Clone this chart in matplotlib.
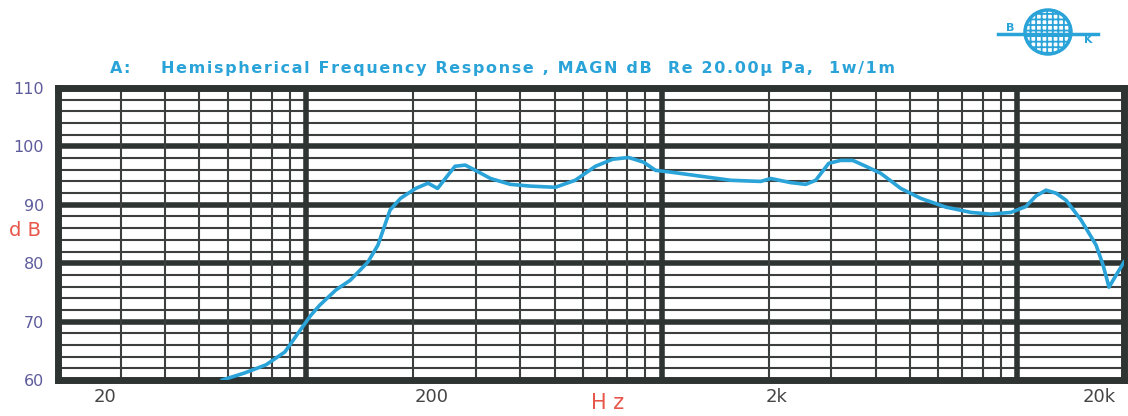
import numpy as np
import matplotlib
matplotlib.use("Agg")
import matplotlib.pyplot as plt
from matplotlib.patches import Ellipse
from matplotlib.transforms import ScaledTranslation

# values
freq_hz = [58, 67, 77, 87, 96, 103, 109, 121, 133, 149, 159, 172, 184, 203, 220,
           234, 249, 262, 280, 299, 330, 375, 427, 502, 571, 651, 728, 807, 889,
           961, 1059, 1286, 1563, 1898, 2028, 2307, 2542, 2713, 2951, 3190, 3450,
           3753, 4133, 4708, 5360, 6307, 7415, 8440, 9610, 10590, 11300, 12060,
           12870, 13730, 15140, 16690, 17460, 18150, 18980, 20000]
spl_db = [60.0, 61.2, 62.6, 64.8, 68.5, 71.1, 72.8, 75.4, 77.1, 80.2, 83.1, 89.1,
          91.1, 92.8, 93.7, 92.8, 94.9, 96.6, 96.8, 95.9, 94.5, 93.5, 93.2, 93.0,
          94.2, 96.6, 97.8, 98.1, 97.3, 95.9, 95.6, 94.9, 94.2, 94.0, 94.5, 93.8,
          93.5, 94.2, 97.1, 97.6, 97.6, 96.6, 95.4, 92.8, 91.1, 89.6, 88.7, 88.4,
          88.7, 89.7, 91.5, 92.5, 92.0, 90.8, 87.4, 83.1, 79.7, 75.9, 77.9, 80.2]

x_ticks = [20, 200, 2000, 20000]
x_tick_labels = ['20', '200', '2k', '20k']
y_ticks = [60, 70, 80, 90, 100, 110]

title = 'A:    Hemispherical Frequency Response , MAGN dB  Re 20.00\u00b5 Pa,  1w/1m'

blue = '#2aa3d8'
grid_dark = '#2e3431'
grid_thin = '#3c3f3d'
plt.rcParams['hatch.color'] = blue
plt.rcParams['hatch.linewidth'] = 1.3

fig = plt.figure(figsize=(11.28, 4.16), dpi=100)
ax = fig.add_axes([58 / 1128, 1 - 380 / 416, (1124 - 58) / 1128, (380 - 88) / 416])
ax.set_xscale('log')
ax.set_xlim(20, 20000)
ax.set_ylim(60, 110)

# grid: thin lines every 2 dB and every log step, thick at decades / 10 dB
for y in range(62, 110, 2):
    if y % 10 == 0:
        ax.axhline(y, color=grid_dark, lw=4.0, zorder=1)
    else:
        ax.axhline(y, color=grid_thin, lw=1.5, zorder=1)
for dec in [10, 100, 1000, 10000]:
    for m in range(1, 10):
        f = dec * m
        if f <= 20 or f >= 20000:
            continue
        if m == 1:
            ax.axvline(f, color=grid_dark, lw=4.0, zorder=1)
        else:
            ax.axvline(f, color=grid_thin, lw=1.5, zorder=1)

ax.plot(freq_hz, spl_db, color=blue, lw=2.6, zorder=3, solid_joinstyle='round')

for s in ax.spines.values():
    s.set_linewidth(5)
    s.set_color(grid_dark)

ax.minorticks_off()
ax.set_xticks(x_ticks)
ax.set_xticklabels(x_tick_labels, fontsize=13, color='#454545')
ax.set_yticks(y_ticks)
ax.set_yticklabels([str(v) for v in y_ticks], fontsize=11.5, color='#5d5b9c')
ax.tick_params(axis='both', length=0)
ax.tick_params(axis='x', pad=6)
ax.tick_params(axis='y', pad=10)

# the reference prints the frequency labels shifted off the grid lines
shifts = [0.47, 0.18, 0.08, -0.25]
for lab, dx in zip(ax.get_xticklabels(), shifts):
    lab.set_transform(lab.get_transform() + ScaledTranslation(dx, 0, fig.dpi_scale_trans))

fig.text(25 / 1128, 1 - 231 / 416, 'd B', color='#e8564a', fontsize=14, ha='center', va='center')
fig.text(608 / 1128, 1 - 403 / 416, 'H z', color='#e8564a', fontsize=15, ha='center', va='center')

# letter-spaced title, like the original print
spaced = '\u200a'.join(title)
fig.text(110 / 1128, 1 - 68 / 416, spaced, color=blue, fontsize=11.5, fontweight='bold',
         ha='left', va='center')

# small globe logo in the top right corner
lg = fig.add_axes([995 / 1128, 1 - 58 / 416, 110 / 1128, 50 / 416])
lg.set_xlim(995, 1105)
lg.set_ylim(58, 8)
lg.axis('off')
lg.add_patch(Ellipse((1048, 32), 46, 44, facecolor='white', edgecolor=blue, lw=2.5, hatch='+++'))
lg.plot([998, 1098], [34, 34], color=blue, lw=2.5)
lg.text(1010, 28, 'B', color=blue, fontsize=8, fontweight='bold', ha='center', va='center')
lg.text(1088, 40, 'K', color=blue, fontsize=8, fontweight='bold', ha='center', va='center')

fig.savefig('out.png', dpi=100)
